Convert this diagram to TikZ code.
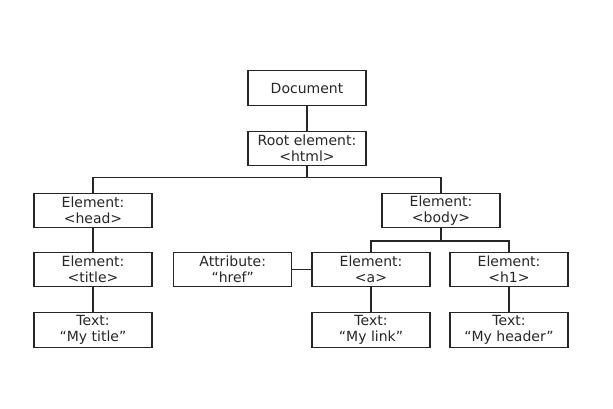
\documentclass[tikz,border=0pt]{standalone}
\usepackage{fontspec}
\setmainfont{DejaVu Sans}
\begin{document}
\begin{tikzpicture}[x=1pt,y=-1pt,
  domnode/.style={draw=black!85, line width=1.2pt, minimum width=118pt, minimum height=34.5pt,
    inner sep=0pt, align=center, text=black!85, font=\fontsize{14}{16}\selectfont},
  link/.style={draw=black!85, line width=1.2pt}]
\useasboundingbox (0,0) rectangle (613,409);
\node[domnode] (doc)  at (307,88)    {Document};
\node[domnode] (root) at (307,148.5) {Root element:\\<html>};
\node[domnode] (head) at (93,210.5)  {Element:\\<head>};
\node[domnode] (body) at (441,210.5) {Element:\\<body>};
\node[domnode] (title) at (93,269.5) {Element:\\<title>};
\node[domnode] (attr) at (232.7,269.5) {Attribute:\\“href”};
\node[domnode] (a)    at (371,269.5) {Element:\\<a>};
\node[domnode] (h1)   at (509,269.5) {Element:\\<h1>};
\node[domnode] (t1)   at (93,330)    {Text:\\“My title”};
\node[domnode] (t2)   at (371,330)   {Text:\\“My link”};
\node[domnode] (t3)   at (509,330)   {Text:\\“My header”};
\coordinate (j1) at (307,177.3);
\coordinate (j2) at (441,241);
\draw[link] (doc) -- (root);
\draw[link] (root) -- (j1);
\draw[link] (j1) -| (head.north);
\draw[link] (j1) -| (body.north);
\draw[link] (body) -- (j2);
\draw[link] (j2) -| (a.north);
\draw[link] (j2) -| (h1.north);
\draw[link] (attr) -- (a);
\draw[link] (head) -- (title);
\draw[link] (title) -- (t1);
\draw[link] (a) -- (t2);
\draw[link] (h1) -- (t3);
\end{tikzpicture}
\end{document}
